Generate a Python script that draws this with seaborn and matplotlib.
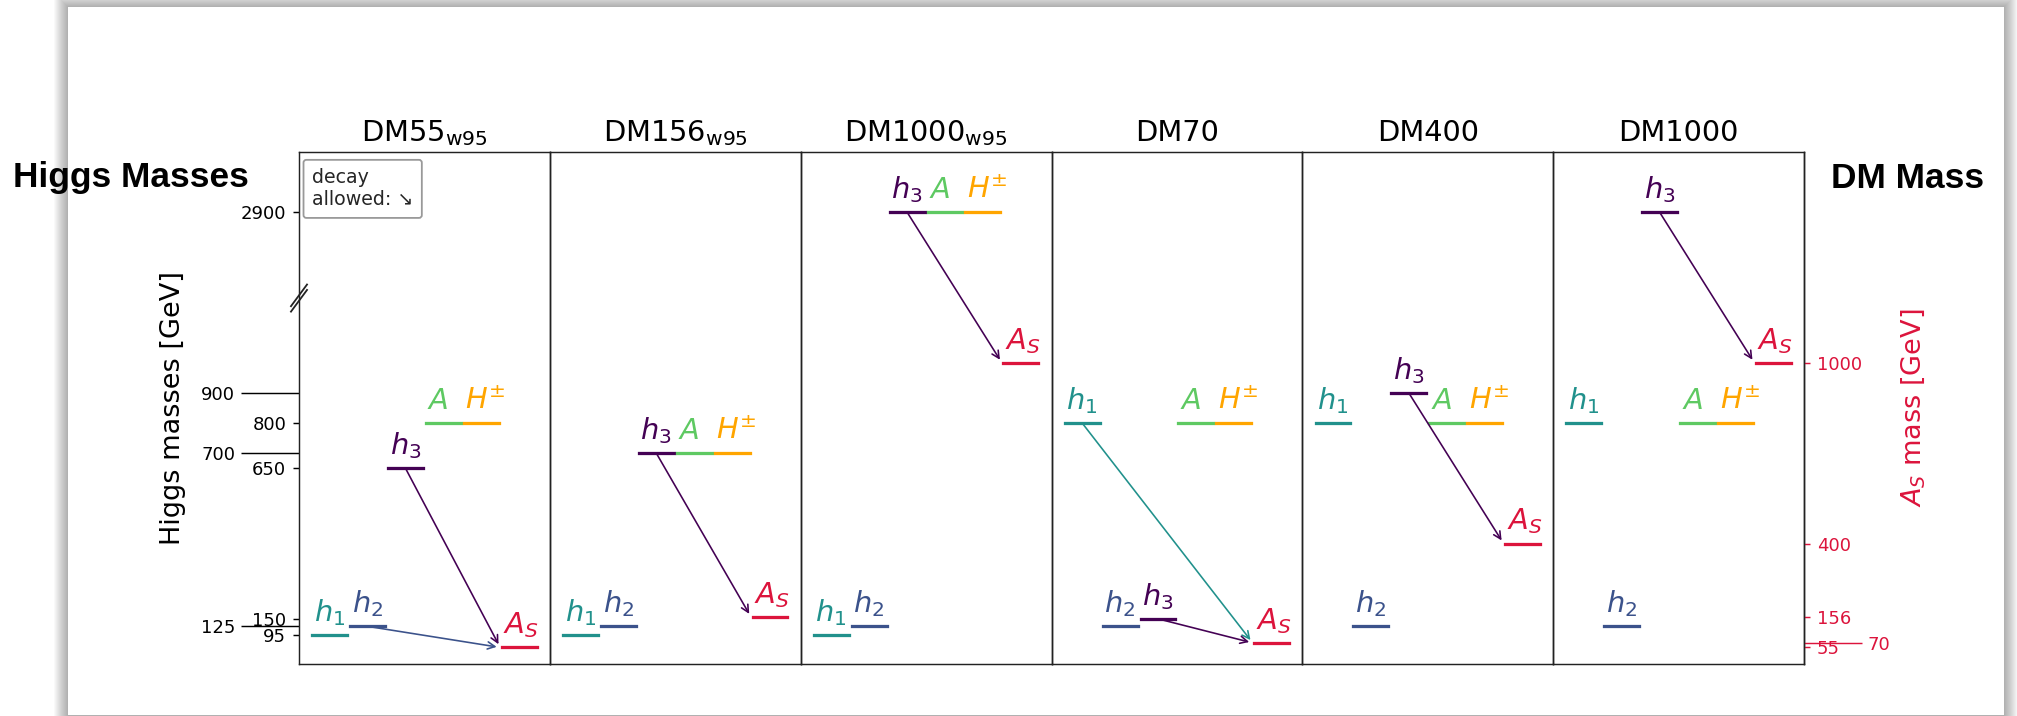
import matplotlib
matplotlib.use("Agg")
import matplotlib.pyplot as plt
from matplotlib.patches import Rectangle
import pandas as pd
import seaborn as sns

# ---- benchmark scenarios and particle masses [GeV] ----
scenarios = [r"DM55$_{\mathrm{w95}}$", r"DM156$_{\mathrm{w95}}$", r"DM1000$_{\mathrm{w95}}$",
             "DM70", "DM400", "DM1000"]
particles = ["h1", "h2", "h3", "A", "Hpm", "AS"]
particle_labels = [r"$h_1$", r"$h_2$", r"$h_3$", r"$A$", r"$H^{\pm}$", r"$A_S$"]
particle_colors = ["#21918c", "#3b528b", "#440154", "#5ec962", "#ffa500", "#dc143c"]

m_h1 = [95, 95, 95, 800, 800, 800]
m_h2 = [125, 125, 125, 125, 125, 125]
m_h3 = [650, 700, 2900, 150, 900, 2900]
m_A = [800, 700, 2900, 800, 800, 800]
m_Hpm = [800, 700, 2900, 800, 800, 800]
m_AS = [55, 156, 1000, 70, 400, 1000]

higgs_ticks_major = [2900, 800, 650, 150, 95]
higgs_ticks_minor = [900, 700, 125]
dm_ticks_major = [1000, 400, 156, 55]
dm_ticks_minor = [70]

DM_COLOR = "#dc143c"

# broken mass axis: everything above the break is shifted down
BREAK_AT, BREAK_SHIFT, BREAK_MARK = 1200, 1400, 1215
Y_MAX = 1700


def to_axis(m):
    return m if m < BREAK_AT else m - BREAK_SHIFT


masses = [m_h1, m_h2, m_h3, m_A, m_Hpm, m_AS]
HALF = 0.46
rows = []
for s_i, scen in enumerate(scenarios):
    for p_i, part in enumerate(particles):
        y = to_axis(masses[p_i][s_i])
        for dx in (-HALF, HALF):
            rows.append({"scenario": scen, "particle": part, "x": p_i + dx, "y": y})
levels = pd.DataFrame(rows)
palette = dict(zip(particles, particle_colors))

# ---- figure ----
DPI = 130
W, H = 2017, 716
fig = plt.figure(figsize=(W / DPI, H / DPI), dpi=DPI)
fig.patch.set_facecolor("white")

# slide sheet with a soft drop shadow
sx0, sx1, sy0, sy1 = 68, 2004, 7, 715
for k in range(14, 0, -1):
    fig.add_artist(Rectangle(((sx0 - k) / W, 1 - (sy1 + k) / H),
                             (sx1 - sx0 + 2 * k) / W, (sy1 - sy0 + 2 * k) / H,
                             transform=fig.transFigure, facecolor="black",
                             edgecolor="none", alpha=0.022, zorder=-10))
fig.add_artist(Rectangle((sx0 / W, 1 - sy1 / H), (sx1 - sx0) / W, (sy1 - sy0) / H,
                         transform=fig.transFigure, facecolor="white",
                         edgecolor="none", zorder=-9))

ax_left, ax_right, ax_top, ax_bottom = 299, 1804, 152, 664
axes = fig.subplots(1, 6, gridspec_kw=dict(wspace=0, left=ax_left / W, right=ax_right / W,
                                           top=1 - ax_top / H, bottom=1 - ax_bottom / H))
for ax in axes:
    ax.set_facecolor("none")

for s_i, (ax, scen) in enumerate(zip(axes, scenarios)):
    sub = levels[levels["scenario"] == scen]
    sns.lineplot(data=sub, x="x", y="y", hue="particle", hue_order=particles,
                 palette=palette, estimator=None, sort=True, legend=False,
                 linewidth=1.8, solid_capstyle="projecting", ax=ax)
    ax.set_xlim(-0.81, 5.81)
    ax.set_ylim(0, Y_MAX)
    ax.set_xlabel("")
    ax.set_ylabel("")
    ax.set_xticks([])
    ax.set_title(scen, fontsize=16)
    for sp in ax.spines.values():
        sp.set_color("#222222")
        sp.set_linewidth(0.8)

    # particle names above their levels
    for p_i, (lab, col) in enumerate(zip(particle_labels, particle_colors)):
        y = to_axis(masses[p_i][s_i])
        ax.annotate(lab, xy=(p_i - 0.42, y), xytext=(0, 7.8), textcoords="offset points",
                    ha="left", va="baseline", color=col, fontsize=16)

    # kinematically allowed decays h_i -> A_S A_S
    m_dm = m_AS[s_i]
    for p_i in range(3):
        m_src = masses[p_i][s_i]
        if m_src > 2 * m_dm:
            ax.annotate("", xy=(5 - 0.5, to_axis(m_dm)), xytext=(p_i, to_axis(m_src)),
                        arrowprops=dict(arrowstyle="->", color=particle_colors[p_i],
                                        lw=0.9, shrinkA=1, shrinkB=2))

    if s_i > 0:
        ax.set_yticks([])

# left mass axis with a break
ax0 = axes[0]
ax0.set_yticks([to_axis(m) for m in higgs_ticks_major],
               labels=[str(m) for m in higgs_ticks_major])
ax0.set_yticks([to_axis(m) for m in higgs_ticks_minor],
               labels=[str(m) for m in higgs_ticks_minor], minor=True)
ax0.tick_params(axis="y", which="major", length=3.5, width=0.8, labelsize=10)
ax0.tick_params(axis="y", which="minor", length=32, width=0.8, labelsize=10)

bt = ax0.get_yaxis_transform()
yb = BREAK_MARK
for off in (-9, 9):
    ax0.plot([-0.032, 0.032], [yb + off - 36, yb + off + 36], transform=bt,
             color="#222222", lw=1.0, clip_on=False)

ax0.text(0.052, 0.968, "decay\nallowed: \u2198", transform=ax0.transAxes, ha="left", va="top",
         fontsize=10.5, color="#262626",
         bbox=dict(boxstyle="round,pad=0.45,rounding_size=0.15", facecolor="white",
                   edgecolor="0.6", linewidth=1.0))

# right axis for the dark-matter mass
axr = axes[-1].twinx()
axr.set_ylim(0, Y_MAX)
axr.set_yticks(dm_ticks_major, labels=[str(m) for m in dm_ticks_major])
axr.set_yticks(dm_ticks_minor, labels=[str(m) for m in dm_ticks_minor], minor=True)
axr.tick_params(axis="y", which="major", length=3.5, width=0.8, colors=DM_COLOR, labelsize=10)
axr.tick_params(axis="y", which="minor", length=32, width=0.8, colors=DM_COLOR, labelsize=10)
for side in ("top", "bottom", "left"):
    axr.spines[side].set_visible(False)
axr.spines["right"].set_color("#222222")
axr.spines["right"].set_linewidth(0.8)

# axis titles and headings
fig.text(173 / W, 1 - 408 / H, "Higgs masses [GeV]", rotation=90, ha="center", va="center",
         fontsize=15)
fig.text(1913 / W, 1 - 408 / H, r"$A_S$ mass [GeV]", rotation=90, ha="center", va="center",
         fontsize=15, color=DM_COLOR)
fig.text(13 / W, 1 - 178 / H, "Higgs Masses", ha="left", va="center", fontsize=19.5,
         fontweight="bold", family="Liberation Sans")
fig.text(1831 / W, 1 - 178 / H, "DM Mass", ha="left", va="center", fontsize=19.5,
         fontweight="bold", family="Liberation Sans")

fig.savefig("out.png", dpi=DPI)
